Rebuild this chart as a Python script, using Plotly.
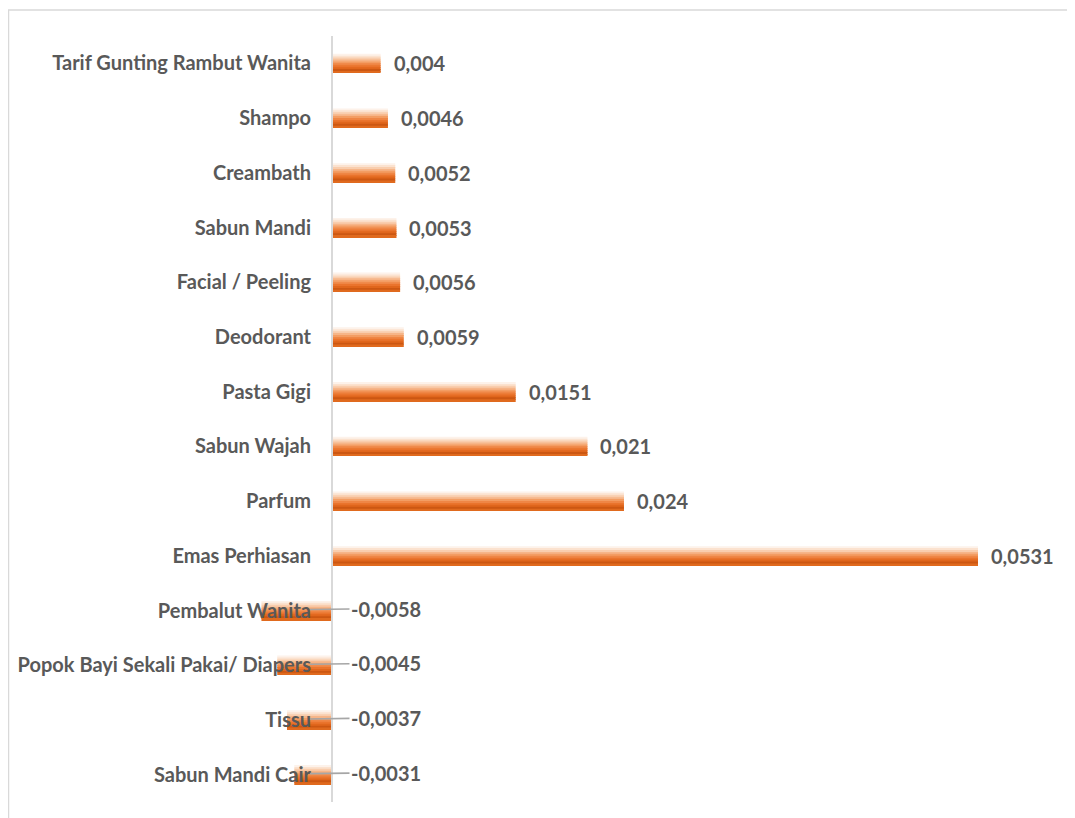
import plotly.graph_objects as go

# Data (top to bottom as shown in the chart)
categories = [
    "Tarif Gunting Rambut Wanita", "Shampo", "Creambath", "Sabun Mandi",
    "Facial / Peeling", "Deodorant", "Pasta Gigi", "Sabun Wajah", "Parfum",
    "Emas Perhiasan", "Pembalut Wanita", "Popok Bayi Sekali Pakai/ Diapers",
    "Tissu", "Sabun Mandi Cair",
]
values = [0.004, 0.0046, 0.0052, 0.0053, 0.0056, 0.0059, 0.0151, 0.021,
          0.024, 0.0531, -0.0058, -0.0045, -0.0037, -0.0031]
value_labels = ["0,004", "0,0046", "0,0052", "0,0053", "0,0056", "0,0059",
                "0,0151", "0,021", "0,024", "0,0531", "-0,0058", "-0,0045",
                "-0,0037", "-0,0031"]

# plot in bottom-to-top order
cats = categories[::-1]
vals = values[::-1]
labs = value_labels[::-1]

W, H = 1067, 810
L, R, T, B = 0, 0, 28, 16
ZERO_PX = 324
PX_PER_UNIT = 646 / 0.0531
plot_w = W - L - R
plot_h = H - T - B
x_range = [(L - ZERO_PX) / PX_PER_UNIT, (W - R - ZERO_PX) / PX_PER_UNIT]

# gradient strips, top -> bottom
strip_colors = ["#FDF2EA", "#FBE2CF", "#F9CDAD", "#F6B588", "#F39D63",
                "#EF8645", "#EA742D", "#E0661C", "#CC5712", "#E06A1E"]
bar_w = 0.35
n = len(strip_colors)
sw = bar_w / n

fig = go.Figure()
for i, c in enumerate(strip_colors):
    fig.add_trace(go.Bar(
        y=cats, x=vals, orientation="h",
        width=sw * 1.02, offset=bar_w / 2 - (i + 1) * sw,
        marker=dict(color=c, line=dict(width=0)),
        showlegend=False, hoverinfo="skip",
    ))

font = dict(family="Lato", size=20, color="#595959", weight="bold")
annotations = []
for c, v, t in zip(cats, vals, labs):
    if v >= 0:
        annotations.append(dict(x=v, y=c, xref="x", yref="y", text=t,
                                showarrow=False, xanchor="left", xshift=11,
                                font=font))
    else:
        annotations.append(dict(x=0, y=c, xref="x", yref="y", text=t,
                                showarrow=True, arrowhead=0, arrowwidth=1.6,
                                arrowcolor="#A6A6A6", axref="pixel", ayref="pixel",
                                ax=76, ay=-1, xshift=-22, yshift=1, font=font))

frame_x0 = 0.5 / plot_w
frame_y1 = (H - B - 2) / plot_h

fig.update_layout(
    width=W, height=H,
    margin=dict(l=L, r=R, t=T, b=B, autoexpand=False),
    barmode="overlay",
    plot_bgcolor="white", paper_bgcolor="white",
    xaxis=dict(range=x_range, visible=False, domain=[0, 1]),
    yaxis=dict(type="category", categoryorder="array", categoryarray=cats,
               anchor="free", position=(ZERO_PX - L) / plot_w,
               showline=True, linecolor="#D9D9D9", linewidth=2,
               showgrid=False, zeroline=False,
               ticks="outside", ticklen=16, tickcolor="rgba(0,0,0,0)",
               tickfont=font),
    annotations=annotations,
    shapes=[dict(type="rect", xref="paper", yref="paper",
                 x0=frame_x0, x1=1.05, y0=-0.1, y1=frame_y1,
                 line=dict(color="#D9D9D9", width=1.5), layer="below")],
)

fig.write_html("out.html")
